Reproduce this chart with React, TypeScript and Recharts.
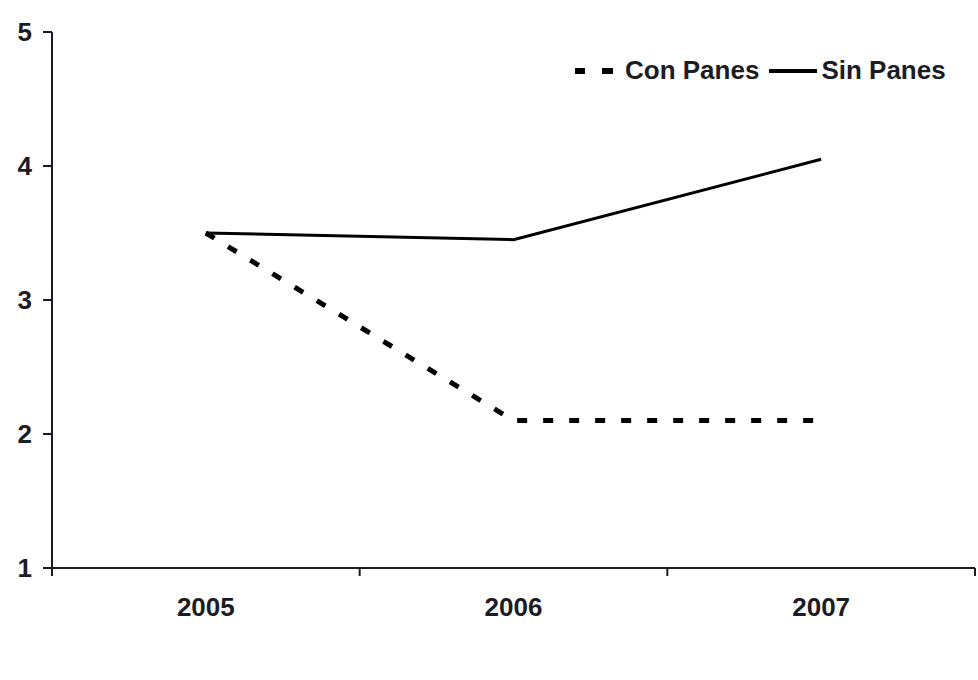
import { LineChart, Line, XAxis, YAxis } from "recharts";

document.body.style.margin = "0";

const years = ["2005", "2006", "2007"];
const conPanes = [3.5, 2.1, 2.1];
const sinPanes = [3.5, 3.45, 4.05];
const yTicks = [1, 2, 3, 4, 5];

const data = years.map((year, i) => ({
  year,
  con: conPanes[i],
  sin: sinPanes[i],
}));

const FONT = '"Liberation Sans", Arial, Helvetica, sans-serif';
const INK = "#1c1c24";
const W = 978;
const H = 680;
const LEFT = 52;
const RIGHT_PAD = 3;
const BAND = (W - LEFT - RIGHT_PAD) / years.length;

function YearTick(props: any) {
  const { x, y, payload, index } = props;
  const half = BAND / 2;
  return (
    <g>
      <line x1={x - half} x2={x - half} y1={y} y2={y + 8} stroke={INK} strokeWidth={2} />
      {index === years.length - 1 && (
        <line x1={x + half} x2={x + half} y1={y} y2={y + 8} stroke={INK} strokeWidth={2} />
      )}
      <text
        x={x}
        y={y + 48}
        textAnchor="middle"
        fill={INK}
        fontSize={26}
        fontWeight="bold"
        fontFamily={FONT}
      >
        {payload.value}
      </text>
    </g>
  );
}

function ChartLegend() {
  return (
    <div
      style={{
        position: "absolute",
        left: 575,
        top: 55,
        display: "flex",
        alignItems: "center",
        fontFamily: FONT,
        fontWeight: "bold",
        fontSize: 26,
        color: INK,
        whiteSpace: "nowrap",
      }}
    >
      <svg width={40} height={10} style={{ marginRight: 10 }}>
        <rect x={0} y={2} width={10} height={6} fill="#000" />
        <rect x={27} y={2} width={11} height={6} fill="#000" />
      </svg>
      <span>Con Panes</span>
      <svg width={50} height={10} style={{ marginLeft: 10, marginRight: 2 }}>
        <rect x={0} y={3} width={48} height={4} fill="#000" />
      </svg>
      <span>Sin Panes</span>
    </div>
  );
}

export default function App() {
  return (
    <div style={{ position: "relative", width: W, height: H, background: "#fff" }}>
      <LineChart
        width={W}
        height={H}
        data={data}
        margin={{ top: 32, right: RIGHT_PAD, left: 0, bottom: 0 }}
      >
        <XAxis
          dataKey="year"
          height={H - 32 - 536}
          padding={{ left: BAND / 2, right: BAND / 2 }}
          axisLine={{ stroke: INK, strokeWidth: 2 }}
          tickLine={false}
          tickSize={0}
          tickMargin={0}
          interval={0}
          tick={<YearTick />}
        />
        <YAxis
          width={LEFT}
          domain={[1, 5]}
          ticks={yTicks}
          interval={0}
          axisLine={{ stroke: INK, strokeWidth: 2 }}
          tickLine={{ stroke: INK, strokeWidth: 2 }}
          tickSize={9}
          tickMargin={11}
          tick={{ fill: INK, fontSize: 26, fontWeight: "bold", fontFamily: FONT }}
        />
        <Line
          dataKey="con"
          stroke="#000"
          strokeWidth={5}
          strokeDasharray="10 16"
          dot={false}
          isAnimationActive={false}
        />
        <Line
          dataKey="sin"
          stroke="#000"
          strokeWidth={3}
          dot={false}
          isAnimationActive={false}
        />
      </LineChart>
      <ChartLegend />
    </div>
  );
}
